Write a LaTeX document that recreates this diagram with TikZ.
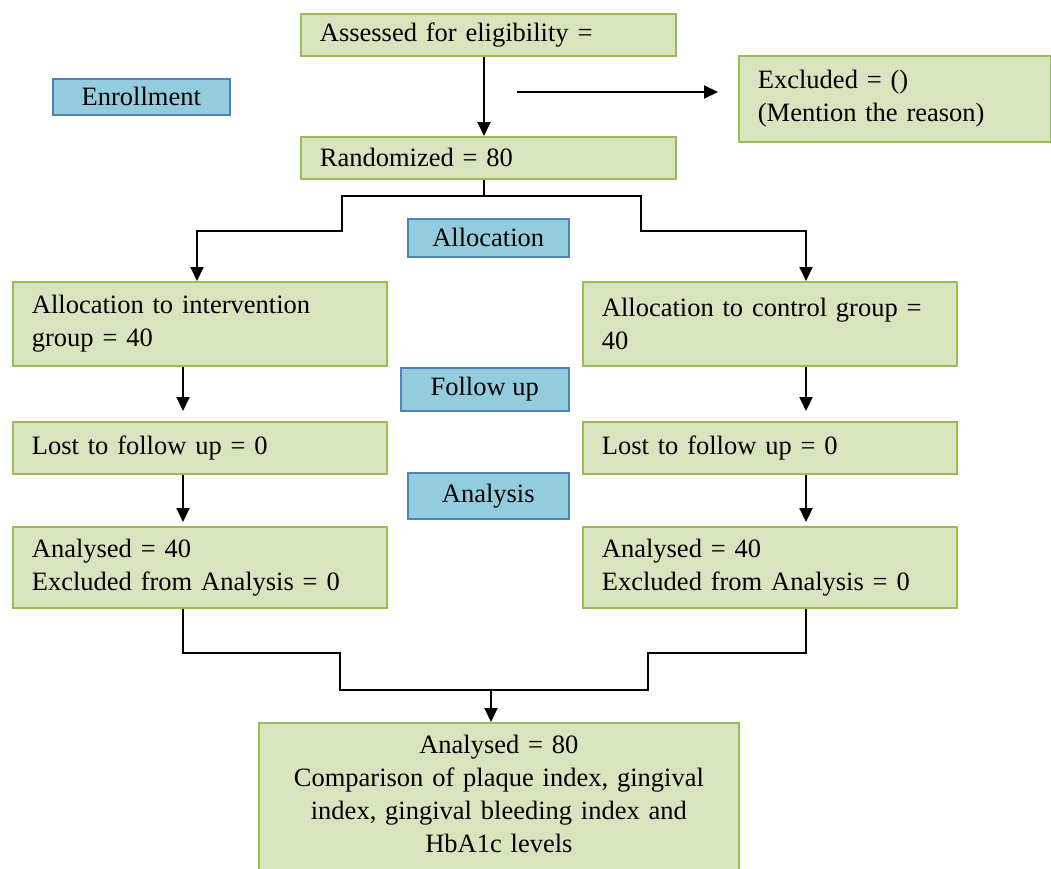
\documentclass[tikz,border=0pt]{standalone}
\usepackage{fontspec}
\setmainfont{Liberation Serif}
\usetikzlibrary{arrows.meta}
\definecolor{gfill}{HTML}{D7E4BD}
\definecolor{gdraw}{HTML}{9BBB59}
\definecolor{bfill}{HTML}{93CDDD}
\definecolor{bdraw}{HTML}{4F81BD}
\tikzset{
  txt/.style={font=\fontsize{26.5}{33}\selectfont},
  gbox/.style={txt, draw=gdraw, fill=gfill, line width=1.8pt, anchor=north west,
    inner xsep=19pt, inner ysep=0pt, align=left},
  lbox/.style={txt, draw=bdraw, fill=bfill, line width=1.5pt, anchor=north west,
    inner sep=0pt, align=center},
  conn/.style={line width=2pt, black},
  arr/.style={conn, -{Triangle[length=14pt,width=13pt]}}
}
\begin{document}
\begin{tikzpicture}[x=1pt,y=-1pt]
\useasboundingbox (0,0) rectangle (1051,868);
% green boxes
\node[gbox, text width=337pt, minimum height=42pt] (assess) at (300,13) {Assessed for eligibility =};
\node[gbox, text width=274pt, minimum height=86pt] (excl) at (738,55) {Excluded = ()\\(Mention the reason)};
\node[gbox, text width=337pt, minimum height=42pt] (rand) at (300,136) {Randomized = 80};
\node[gbox, text width=336pt, minimum height=84pt] (inter) at (12,281) {Allocation to intervention\\group = 40};
\node[gbox, text width=336pt, minimum height=84pt] (ctrl) at (582,281) {Allocation to control group =\\40};
\node[gbox, text width=336pt, minimum height=52pt] (lostL) at (12,421) {Lost to follow up = 0};
\node[gbox, text width=336pt, minimum height=52pt] (lostR) at (582,421) {Lost to follow up = 0};
\node[gbox, text width=336pt, minimum height=81pt] (anaL) at (12,526) {Analysed = 40\\Excluded from Analysis = 0};
\node[gbox, text width=336pt, minimum height=81pt] (anaR) at (582,526) {Analysed = 40\\Excluded from Analysis = 0};
\node[gbox, text width=442pt, minimum height=170pt, align=center] (final) at (258,722)
  {Analysed = 80\\Comparison of plaque index, gingival\\index, gingival bleeding index and\\HbA1c levels\\[-4pt]\mbox{}};
% blue labels
\node[lbox, minimum width=177pt, minimum height=36pt] (enr) at (52,78) {Enrollment};
\node[lbox, minimum width=161pt, minimum height=38pt] (alloc) at (407,218) {Allocation};
\node[lbox, minimum width=168pt, minimum height=43pt] (fup) at (400,367) {Follow up};
\node[lbox, minimum width=161pt, minimum height=46pt] (anal) at (407,472) {Analysis};
% helper coordinates
\coordinate (exstart) at (517,92);
\coordinate (xTop) at (484,0);
\coordinate (bL) at (342,196);
\coordinate (bR) at (641,196);
\coordinate (xLt) at (197,0);
\coordinate (xL) at (183,0);
\coordinate (xR) at (806,0);
\coordinate (mL) at (340,653);
\coordinate (mR) at (648,653);
\coordinate (merge) at (491,690);
% connectors
\draw[arr] (assess.south -| xTop) -- (rand.north -| xTop);
\draw[arr] (exstart) -- ([xshift=-20pt]excl.west |- exstart);
\draw[conn] (rand.south -| xTop) -- (bL -| xTop);
\draw[arr] (bL -| xTop) -- (bL) -- (342,231) -| (inter.north -| xLt);
\draw[arr] (bR -| xTop) -- (bR) -- (641,231) -| (ctrl.north -| xR);
\draw[arr, shorten >=10pt] (inter.south -| xL) -- (lostL.north -| xL);
\draw[arr, shorten >=10pt] (ctrl.south -| xR) -- (lostR.north -| xR);
\draw[arr, shorten >=4pt] (lostL.south -| xL) -- (anaL.north -| xL);
\draw[arr, shorten >=4pt] (lostR.south -| xR) -- (anaR.north -| xR);
\draw[conn] (anaL.south -| xL) |- (mL) |- (merge) -| (mR) -| (anaR.south -| xR);
\draw[arr] (merge) -- (final.north -| merge);
\end{tikzpicture}
\end{document}
